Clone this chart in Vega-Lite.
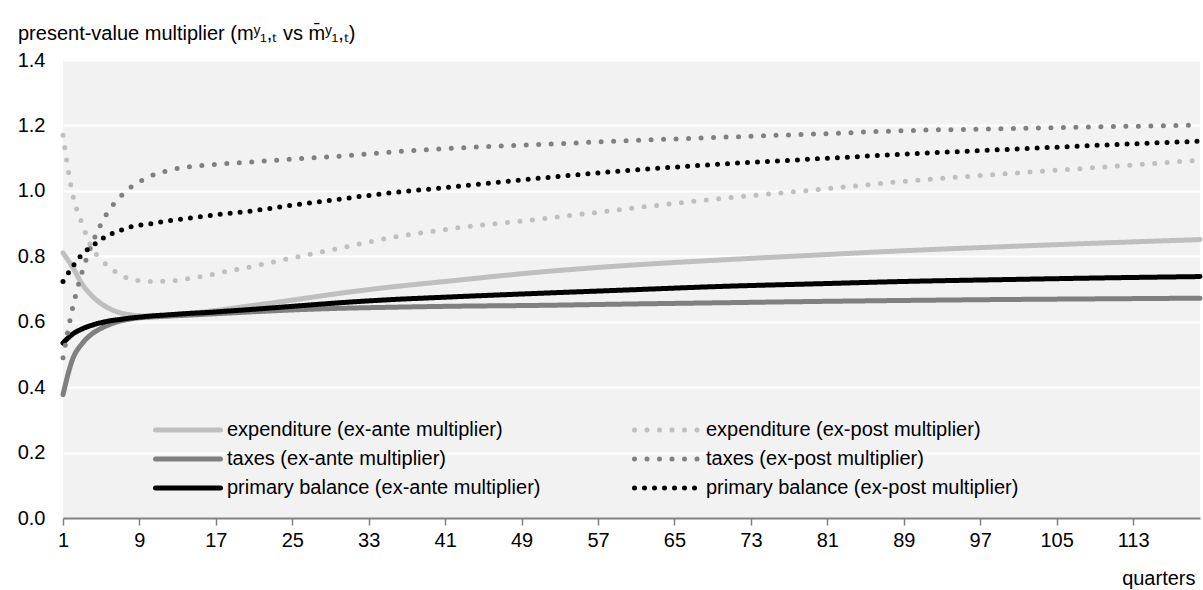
{
  "$schema": "https://vega.github.io/schema/vega-lite/v6.json",
  "autosize": "none",
  "width": 1137,
  "height": 458,
  "padding": {"left": 63, "top": 60, "right": 3, "bottom": 72},
  "background": "white",
  "title": {
    "text": "present-value multiplier (mʸ₁,ₜ vs m̄ʸ₁,ₜ)",
    "anchor": "start",
    "frame": "group",
    "dx": -45,
    "offset": -14,
    "baseline": "bottom",
    "font": "Liberation Sans",
    "fontSize": 20,
    "fontWeight": "normal",
    "color": "#000000"
  },
  "data": {
    "values": [
      {"q": 1, "expenditure (ex-ante multiplier)": 0.81, "expenditure (ex-post multiplier)": 1.17, "taxes (ex-ante multiplier)": 0.377, "taxes (ex-post multiplier)": 0.49, "primary balance (ex-ante multiplier)": 0.535, "primary balance (ex-post multiplier)": 0.723},
      {"q": 2, "expenditure (ex-ante multiplier)": 0.767, "expenditure (ex-post multiplier)": 0.99, "taxes (ex-ante multiplier)": 0.485, "taxes (ex-post multiplier)": 0.641, "primary balance (ex-ante multiplier)": 0.562, "primary balance (ex-post multiplier)": 0.768},
      {"q": 3, "expenditure (ex-ante multiplier)": 0.715, "expenditure (ex-post multiplier)": 0.9, "taxes (ex-ante multiplier)": 0.533, "taxes (ex-post multiplier)": 0.752, "primary balance (ex-ante multiplier)": 0.578, "primary balance (ex-post multiplier)": 0.806},
      {"q": 4, "expenditure (ex-ante multiplier)": 0.68, "expenditure (ex-post multiplier)": 0.826, "taxes (ex-ante multiplier)": 0.562, "taxes (ex-post multiplier)": 0.835, "primary balance (ex-ante multiplier)": 0.589, "primary balance (ex-post multiplier)": 0.83},
      {"q": 5, "expenditure (ex-ante multiplier)": 0.655, "expenditure (ex-post multiplier)": 0.79, "taxes (ex-ante multiplier)": 0.58, "taxes (ex-post multiplier)": 0.9, "primary balance (ex-ante multiplier)": 0.597, "primary balance (ex-post multiplier)": 0.852},
      {"q": 6, "expenditure (ex-ante multiplier)": 0.638, "expenditure (ex-post multiplier)": 0.763, "taxes (ex-ante multiplier)": 0.593, "taxes (ex-post multiplier)": 0.948, "primary balance (ex-ante multiplier)": 0.603, "primary balance (ex-post multiplier)": 0.868},
      {"q": 7, "expenditure (ex-ante multiplier)": 0.627, "expenditure (ex-post multiplier)": 0.743, "taxes (ex-ante multiplier)": 0.602, "taxes (ex-post multiplier)": 0.982, "primary balance (ex-ante multiplier)": 0.607, "primary balance (ex-post multiplier)": 0.879},
      {"q": 8, "expenditure (ex-ante multiplier)": 0.621, "expenditure (ex-post multiplier)": 0.731, "taxes (ex-ante multiplier)": 0.608, "taxes (ex-post multiplier)": 1.009, "primary balance (ex-ante multiplier)": 0.611, "primary balance (ex-post multiplier)": 0.889},
      {"q": 9, "expenditure (ex-ante multiplier)": 0.618, "expenditure (ex-post multiplier)": 0.725, "taxes (ex-ante multiplier)": 0.612, "taxes (ex-post multiplier)": 1.028, "primary balance (ex-ante multiplier)": 0.614, "primary balance (ex-post multiplier)": 0.895},
      {"q": 10, "expenditure (ex-ante multiplier)": 0.617, "expenditure (ex-post multiplier)": 0.723, "taxes (ex-ante multiplier)": 0.614, "taxes (ex-post multiplier)": 1.043, "primary balance (ex-ante multiplier)": 0.617, "primary balance (ex-post multiplier)": 0.899},
      {"q": 12, "expenditure (ex-ante multiplier)": 0.62, "expenditure (ex-post multiplier)": 0.724, "taxes (ex-ante multiplier)": 0.617, "taxes (ex-post multiplier)": 1.062, "primary balance (ex-ante multiplier)": 0.621, "primary balance (ex-post multiplier)": 0.908},
      {"q": 14, "expenditure (ex-ante multiplier)": 0.625, "expenditure (ex-post multiplier)": 0.731, "taxes (ex-ante multiplier)": 0.62, "taxes (ex-post multiplier)": 1.073, "primary balance (ex-ante multiplier)": 0.625, "primary balance (ex-post multiplier)": 0.916},
      {"q": 16, "expenditure (ex-ante multiplier)": 0.631, "expenditure (ex-post multiplier)": 0.741, "taxes (ex-ante multiplier)": 0.623, "taxes (ex-post multiplier)": 1.079, "primary balance (ex-ante multiplier)": 0.628, "primary balance (ex-post multiplier)": 0.923},
      {"q": 18, "expenditure (ex-ante multiplier)": 0.638, "expenditure (ex-post multiplier)": 0.753, "taxes (ex-ante multiplier)": 0.626, "taxes (ex-post multiplier)": 1.083, "primary balance (ex-ante multiplier)": 0.632, "primary balance (ex-post multiplier)": 0.93},
      {"q": 20, "expenditure (ex-ante multiplier)": 0.646, "expenditure (ex-post multiplier)": 0.764, "taxes (ex-ante multiplier)": 0.629, "taxes (ex-post multiplier)": 1.087, "primary balance (ex-ante multiplier)": 0.636, "primary balance (ex-post multiplier)": 0.936},
      {"q": 25, "expenditure (ex-ante multiplier)": 0.666, "expenditure (ex-post multiplier)": 0.795, "taxes (ex-ante multiplier)": 0.636, "taxes (ex-post multiplier)": 1.097, "primary balance (ex-ante multiplier)": 0.647, "primary balance (ex-post multiplier)": 0.956},
      {"q": 30, "expenditure (ex-ante multiplier)": 0.687, "expenditure (ex-post multiplier)": 0.825, "taxes (ex-ante multiplier)": 0.641, "taxes (ex-post multiplier)": 1.106, "primary balance (ex-ante multiplier)": 0.658, "primary balance (ex-post multiplier)": 0.975},
      {"q": 35, "expenditure (ex-ante multiplier)": 0.705, "expenditure (ex-post multiplier)": 0.855, "taxes (ex-ante multiplier)": 0.644, "taxes (ex-post multiplier)": 1.118, "primary balance (ex-ante multiplier)": 0.667, "primary balance (ex-post multiplier)": 0.993},
      {"q": 41, "expenditure (ex-ante multiplier)": 0.723, "expenditure (ex-post multiplier)": 0.882, "taxes (ex-ante multiplier)": 0.647, "taxes (ex-post multiplier)": 1.129, "primary balance (ex-ante multiplier)": 0.675, "primary balance (ex-post multiplier)": 1.01},
      {"q": 51, "expenditure (ex-ante multiplier)": 0.752, "expenditure (ex-post multiplier)": 0.914, "taxes (ex-ante multiplier)": 0.65, "taxes (ex-post multiplier)": 1.142, "primary balance (ex-ante multiplier)": 0.687, "primary balance (ex-post multiplier)": 1.039},
      {"q": 60, "expenditure (ex-ante multiplier)": 0.772, "expenditure (ex-post multiplier)": 0.945, "taxes (ex-ante multiplier)": 0.654, "taxes (ex-post multiplier)": 1.153, "primary balance (ex-ante multiplier)": 0.697, "primary balance (ex-post multiplier)": 1.062},
      {"q": 70, "expenditure (ex-ante multiplier)": 0.789, "expenditure (ex-post multiplier)": 0.977, "taxes (ex-ante multiplier)": 0.658, "taxes (ex-post multiplier)": 1.164, "primary balance (ex-ante multiplier)": 0.708, "primary balance (ex-post multiplier)": 1.082},
      {"q": 80, "expenditure (ex-ante multiplier)": 0.804, "expenditure (ex-post multiplier)": 1.004, "taxes (ex-ante multiplier)": 0.662, "taxes (ex-post multiplier)": 1.174, "primary balance (ex-ante multiplier)": 0.716, "primary balance (ex-post multiplier)": 1.098},
      {"q": 89, "expenditure (ex-ante multiplier)": 0.817, "expenditure (ex-post multiplier)": 1.029, "taxes (ex-ante multiplier)": 0.665, "taxes (ex-post multiplier)": 1.184, "primary balance (ex-ante multiplier)": 0.723, "primary balance (ex-post multiplier)": 1.112},
      {"q": 100, "expenditure (ex-ante multiplier)": 0.83, "expenditure (ex-post multiplier)": 1.053, "taxes (ex-ante multiplier)": 0.668, "taxes (ex-post multiplier)": 1.19, "primary balance (ex-ante multiplier)": 0.729, "primary balance (ex-post multiplier)": 1.127},
      {"q": 110, "expenditure (ex-ante multiplier)": 0.841, "expenditure (ex-post multiplier)": 1.073, "taxes (ex-ante multiplier)": 0.67, "taxes (ex-post multiplier)": 1.196, "primary balance (ex-ante multiplier)": 0.734, "primary balance (ex-post multiplier)": 1.14},
      {"q": 120, "expenditure (ex-ante multiplier)": 0.851, "expenditure (ex-post multiplier)": 1.094, "taxes (ex-ante multiplier)": 0.672, "taxes (ex-post multiplier)": 1.201, "primary balance (ex-ante multiplier)": 0.738, "primary balance (ex-post multiplier)": 1.152}
    ]
  },
  "transform": [
    {"fold": ["expenditure (ex-ante multiplier)", "taxes (ex-ante multiplier)", "primary balance (ex-ante multiplier)", "expenditure (ex-post multiplier)", "taxes (ex-post multiplier)", "primary balance (ex-post multiplier)"], "as": ["series", "value"]}
  ],
  "mark": {"type": "line", "interpolate": "monotone", "strokeCap": "round", "clip": false},
  "encoding": {
    "x": {
      "field": "q", "type": "quantitative",
      "scale": {"domain": [1, 120], "nice": false, "zero": false},
      "axis": {
        "values": [1, 9, 17, 25, 33, 41, 49, 57, 65, 73, 81, 89, 97, 105, 113],
        "title": "quarters",
        "titleAnchor": "end",
        "titleAlign": "right",
        "titleX": 1132,
        "titlePadding": 18,
        "titleFontWeight": "normal",
        "grid": false,
        "domainColor": "#808080",
        "domainWidth": 2,
        "tickColor": "#808080",
        "tickWidth": 1.5,
        "tickSize": 7,
        "labelPadding": 5,
        "labelFlush": false
      }
    },
    "y": {
      "field": "value", "type": "quantitative",
      "scale": {"domain": [0, 1.4], "nice": false},
      "axis": {
        "values": [0, 0.2, 0.4, 0.6, 0.8, 1.0, 1.2, 1.4],
        "format": ".1f",
        "title": null,
        "domain": false,
        "ticks": false,
        "labelPadding": 18,
        "grid": true,
        "gridColor": "#ffffff",
        "gridWidth": 2
      }
    },
    "color": {
      "field": "series", "type": "nominal",
      "scale": {
        "domain": ["expenditure (ex-ante multiplier)", "taxes (ex-ante multiplier)", "primary balance (ex-ante multiplier)", "expenditure (ex-post multiplier)", "taxes (ex-post multiplier)", "primary balance (ex-post multiplier)"],
        "range": ["#bfbfbf", "#808080", "#000000", "#bfbfbf", "#808080", "#000000"]
      },
      "legend": {
        "orient": "none",
        "legendX": 90,
        "legendY": 359,
        "columns": 2,
        "columnPadding": 91,
        "rowPadding": 7,
        "clipHeight": 22,
        "padding": 0,
        "title": null,
        "symbolType": "stroke",
        "symbolSize": 4225,
        "labelOffset": 4,
        "labelLimit": 0,
        "labelFont": "Liberation Sans",
        "labelFontSize": 20,
        "labelColor": "#000000",
        "fillColor": null,
        "strokeColor": null,
        "encoding": {"symbols": {"strokeCap": {"value": "round"}}}
      }
    },
    "strokeDash": {
      "field": "series", "type": "nominal",
      "scale": {
        "domain": ["expenditure (ex-ante multiplier)", "taxes (ex-ante multiplier)", "primary balance (ex-ante multiplier)", "expenditure (ex-post multiplier)", "taxes (ex-post multiplier)", "primary balance (ex-post multiplier)"],
        "range": [[1, 0], [1, 0], [1, 0], [0, 12.5], [0, 12.5], [0, 10]]
      }
    },
    "strokeWidth": {
      "field": "series", "type": "nominal",
      "scale": {
        "domain": ["expenditure (ex-ante multiplier)", "taxes (ex-ante multiplier)", "primary balance (ex-ante multiplier)", "expenditure (ex-post multiplier)", "taxes (ex-post multiplier)", "primary balance (ex-post multiplier)"],
        "range": [5, 5, 5, 5, 5, 4]
      }
    }
  },
  "config": {
    "font": "Liberation Sans",
    "view": {"fill": "#f2f2f2", "stroke": null},
    "axis": {
      "labelFont": "Liberation Sans",
      "labelFontSize": 20,
      "labelColor": "#000000",
      "titleFont": "Liberation Sans",
      "titleFontSize": 20,
      "titleColor": "#000000"
    }
  }
}
